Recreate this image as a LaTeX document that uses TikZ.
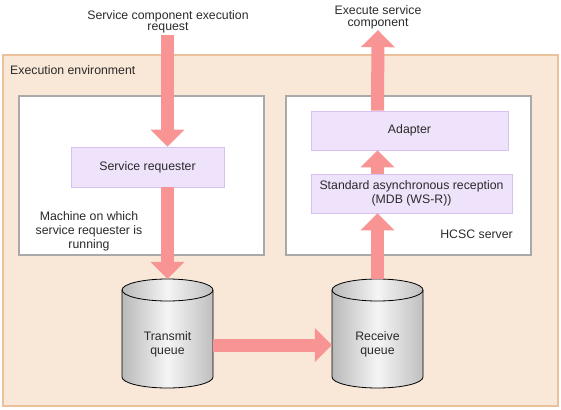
\documentclass[tikz,border=0pt]{standalone}
\usepackage{fontspec}
\setmainfont{Liberation Sans}
\usetikzlibrary{arrows.meta}
\definecolor{envfill}{HTML}{F9E7D7}
\definecolor{envline}{HTML}{EBC19C}
\definecolor{boxline}{HTML}{A9A9A9}
\definecolor{lavfill}{HTML}{EFE2FB}
\definecolor{lavline}{HTML}{D9C0F2}
\definecolor{pinkarrow}{HTML}{F99494}
\definecolor{txt}{HTML}{2A2A2A}
\tikzset{
  every node/.style={font=\fontsize{12.3}{14}\selectfont, text=txt},
  envbox/.style={draw=envline, fill=envfill, line width=1.2pt, inner sep=0pt},
  hostbox/.style={draw=boxline, fill=white, line width=2pt, inner sep=0pt},
  compbox/.style={draw=lavline, fill=lavfill, line width=0.8pt, inner sep=0pt},
  cylbody/.style={draw=black, line width=0.8pt, left color=gray!55, right color=gray!50, middle color=gray!8},
  fat/.style={draw=pinkarrow, line width=13pt, -{Triangle[length=17pt,width=33pt]}},
  toplabel/.style={align=center, font=\fontsize{12.3}{11.5}\selectfont, inner sep=1pt},
  cylbox/.style={minimum width=91pt, minimum height=109pt, inner sep=0pt},
}
\newcommand{\mycyl}[4]{% center x, top y, bottom y, half width
  \path[cylbody] (#1-#4,#2-11) -- (#1-#4,#3+11)
     arc[start angle=180, end angle=360, x radius=#4, y radius=11]
     -- (#1+#4,#2-11)
     arc[start angle=0, end angle=180, x radius=#4, y radius=11] -- cycle;
  \draw[black, line width=0.8pt] (#1-#4,#2-11)
     arc[start angle=180, end angle=360, x radius=#4, y radius=11];
}
\begin{document}
\begin{tikzpicture}[x=1pt,y=1pt]
\useasboundingbox (0,0) rectangle (561,-409);
% environment
\node[envbox, minimum width=555pt, minimum height=351pt] (env) at (280.5,-230.5) {};
\node[anchor=west, inner sep=0pt] (envlabel) at (10,-70) {Execution environment};
% host boxes
\node[hostbox, minimum width=245pt, minimum height=159pt] (mach) at (141.5,-175.5) {};
\node[hostbox, minimum width=245pt, minimum height=159pt] (hcsc) at (408.5,-175.5) {};
\node[align=center, inner sep=0pt] (machlabel) at (89,-231.5) {Machine on which\\service requester is\\running};
\node[anchor=east, inner sep=0pt] (hcsclabel) at (513,-234) {HCSC server};
% components
\node[compbox, minimum width=153pt, minimum height=40pt] (sr) at (147.5,-167) {Service requester};
\node[compbox, minimum width=197pt, minimum height=39pt] (ad) at (409.5,-130.5) {Adapter};
\node[compbox, minimum width=201pt, minimum height=39pt, align=center] (std) at (411.5,-193.5) {Standard asynchronous reception\\(MDB (WS-R))};
% cylinders
\mycyl{167.5}{-279}{-388}{45.5}
\mycyl{377.5}{-279}{-388}{45.5}
\node[cylbox] (tq) at (167.5,-333.5) {};
\node[cylbox] (rq) at (377.5,-333.5) {};
\node[align=center, inner sep=0pt] (tqlabel) at (167.5,-344) {Transmit\\queue};
\node[align=center, inner sep=0pt] (rqlabel) at (377.5,-344) {Receive\\queue};
% top labels
\node[toplabel] (req) at (168,-22) {Service component execution\\request};
\node[toplabel] (exec) at (378,-17.5) {Execute service\\component};
% arrows
\draw[fat] (tq.north |- req.south) -- (tq.north |- sr.north);
\draw[fat] (tq.north |- sr.south) -- (tq.north);
\draw[fat] ([yshift=-11.5pt]tq.east) -- ([yshift=-11.5pt]rq.west);
\draw[fat] (rq.north) -- (rq.north |- std.south);
\draw[fat] (rq.north |- std.north) -- (rq.north |- ad.south);
\draw[fat] (rq.north |- ad.north) -- (exec.south);
\end{tikzpicture}
\end{document}
